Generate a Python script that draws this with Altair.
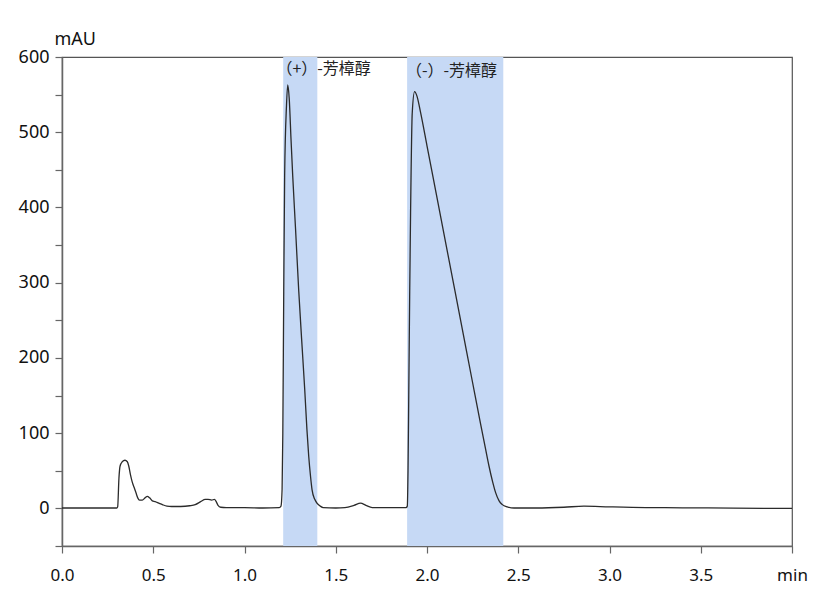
import altair as alt
import pandas as pd

# chromatogram trace (time in min, absorbance in mAU)
time_min = [0.00, 0.29, 0.300, 0.305, 0.312, 0.318, 0.330, 0.345, 0.358, 0.366, 0.375, 0.385,
            0.395, 0.405, 0.415, 0.425, 0.440, 0.455, 0.468, 0.480, 0.495, 0.510, 0.530, 0.550,
            0.575, 0.600, 0.650, 0.700, 0.730, 0.760, 0.785, 0.800, 0.820, 0.835, 0.845, 0.855,
            0.870, 0.900, 1.00, 1.10, 1.19, 1.200, 1.206, 1.210, 1.215, 1.220, 1.230, 1.237,
            1.245, 1.255, 1.264, 1.280, 1.297, 1.313, 1.330, 1.342, 1.352, 1.362, 1.370, 1.385,
            1.397, 1.415, 1.432, 1.50, 1.55, 1.60, 1.636, 1.665, 1.70, 1.80, 1.885, 1.892,
            1.896, 1.900, 1.905, 1.910, 1.919, 1.932, 1.945, 1.965, 2.000, 2.050, 2.100, 2.150,
            2.200, 2.250, 2.293, 2.320, 2.339, 2.360, 2.376, 2.395, 2.413, 2.440,
            2.477, 2.60, 2.75, 2.86, 3.00, 3.20, 3.40, 3.68, 4.00]
signal_mau = [0.5, 0.5, 0.5, 2, 40, 56, 62, 64, 62, 56, 45, 35,
              28, 21, 14, 11, 11, 14, 16, 14, 10, 9, 7, 5,
              3, 2.5, 2.5, 3.5, 5, 9, 12, 12, 11, 12, 9, 4,
              1.5, 1, 1, 0.5, 1, 3, 25, 100, 288, 443, 535, 563,
              545, 490, 443, 370, 290, 225, 158, 105, 69, 42, 25, 12,
              7, 3, 1, 0.5, 1, 4, 7, 4, 1, 1, 1, 3,
              50, 150, 282, 393, 525, 554, 548, 526, 482, 419, 356, 293,
              230, 167, 113, 80, 57, 35, 21, 10, 5, 2,
              0.5, 0.5, 1.5, 3, 2, 1, 0.8, 0.3, 0]

# shaded collection windows and their labels
band_start = [1.212, 1.891]
band_end = [1.399, 2.418]
band_label = ["（+）-芳樟醇", "（-）-芳樟醇"]
label_x = [1.175, 1.885]
label_y = [578, 575]

trace = pd.DataFrame({"t": time_min, "v": signal_mau})
bands = pd.DataFrame({"x1": band_start, "x2": band_end})
labels = pd.DataFrame({"x": label_x, "y": label_y, "text": band_label})

xscale = alt.Scale(domain=[0, 4.0], nice=False, zero=False)
yscale = alt.Scale(domain=[-50, 600], nice=False, zero=False)

x_ticks = [0, 0.5, 1.0, 1.5, 2.0, 2.5, 3.0, 3.5, 4.0]
y_ticks = [-50, 0, 50, 100, 150, 200, 250, 300, 350, 400, 450, 500, 550, 600]

band_layer = alt.Chart(bands).mark_rect(color="#c6d9f5").encode(
    x=alt.X("x1:Q", scale=xscale,
            axis=alt.Axis(values=x_ticks, tickCount=20, title=None, grid=False,
                          labelExpr="datum.value >= 3.99 ? 'min' : format(datum.value, '.1f')",
                          labelFont="Noto Sans", labelFontSize=17, labelColor="#111",
                          labelPadding=14, tickSize=7, tickColor="#666", domainColor="#666",
                          domainWidth=1.5, tickWidth=1.2, labelFlush=False, labelOverlap=False)),
    x2="x2:Q",
    y=alt.value(0),
    y2=alt.value(489),
)

line_layer = alt.Chart(trace).mark_line(color="#2b2b2b", strokeWidth=1.3, interpolate="monotone").encode(
    x=alt.X("t:Q", scale=xscale),
    y=alt.Y("v:Q", scale=yscale,
            axis=alt.Axis(values=y_ticks, tickCount=30, grid=False, title="mAU",
                          labelExpr="(datum.value >= 0 && datum.value % 100 == 0) ? format(datum.value, 'd') : ''",
                          labelOverlap=False,
                          labelFont="Noto Sans", labelFontSize=18, labelColor="#111",
                          labelPadding=6, tickSize=7, tickColor="#666", domainColor="#666",
                          domainWidth=1.5, tickWidth=1.2,
                          titleAngle=0, titleX=-8, titleY=-13, titleAlign="left",
                          titleBaseline="alphabetic", titleFont="Noto Sans",
                          titleFontSize=18, titleFontWeight="normal", titleColor="#111")),
)

text_layer = alt.Chart(labels).mark_text(
    align="left", baseline="alphabetic", font="Noto Sans CJK SC", fontSize=16, color="#222"
).encode(
    x=alt.X("x:Q", scale=xscale),
    y=alt.Y("y:Q", scale=yscale),
    text="text:N",
)

chart = alt.layer(band_layer, line_layer, text_layer).properties(
    width=730, height=489,
    autosize=alt.AutoSizeParams(type="none"),
    padding={"left": 54, "top": 49, "right": 30, "bottom": 40},
).configure_view(stroke="#555", strokeWidth=1.2)

chart.save("out.html", embed_options={"renderer": "svg", "actions": False})
